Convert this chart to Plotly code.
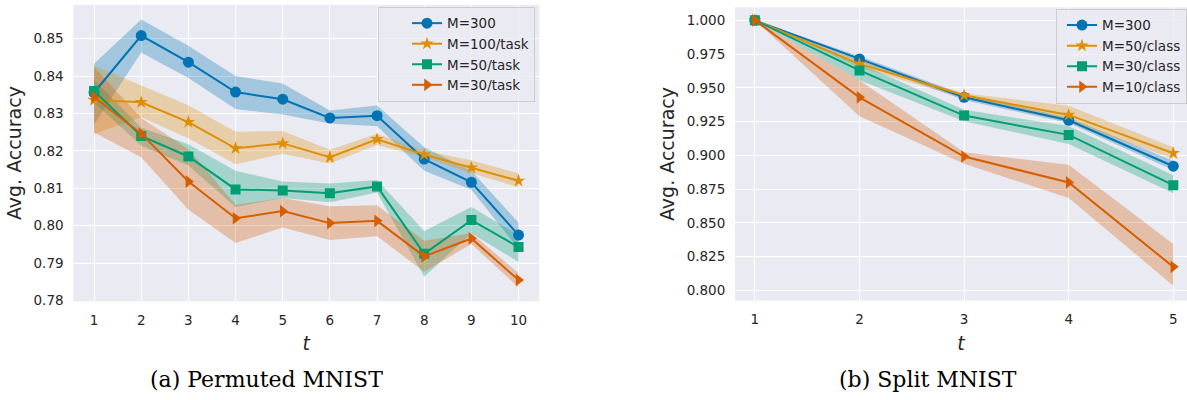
import plotly.graph_objects as go

# ---------------- data: (a) Permuted MNIST ----------------
t_perm = [1, 2, 3, 4, 5, 6, 7, 8, 9, 10]
perm_labels = ["M=300", "M=100/task", "M=50/task", "M=30/task"]
perm_m300 = [0.8356, 0.8508, 0.8437, 0.8357, 0.8338, 0.8288, 0.8294, 0.8178, 0.8116, 0.7975]
perm_m300_hi = [0.8433, 0.8551, 0.8481, 0.8400, 0.8380, 0.8308, 0.8321, 0.8210, 0.8147, 0.8008]
perm_m300_lo = [0.8270, 0.8463, 0.8395, 0.8312, 0.8297, 0.8273, 0.8266, 0.8147, 0.8096, 0.7938]
perm_m100 = [0.8336, 0.8330, 0.8277, 0.8207, 0.8220, 0.8183, 0.8231, 0.8190, 0.8155, 0.8120]
perm_m100_hi = [0.8428, 0.8374, 0.8322, 0.8251, 0.8253, 0.8203, 0.8246, 0.8200, 0.8175, 0.8140]
perm_m100_lo = [0.8245, 0.8290, 0.8234, 0.8164, 0.8192, 0.8166, 0.8216, 0.8183, 0.8140, 0.8103]
perm_m50 = [0.8360, 0.8240, 0.8185, 0.8097, 0.8094, 0.8087, 0.8105, 0.7925, 0.8015, 0.7943]
perm_m50_hi = [0.8390, 0.8262, 0.8218, 0.8147, 0.8118, 0.8113, 0.8122, 0.7986, 0.8050, 0.7975]
perm_m50_lo = [0.8330, 0.8214, 0.8161, 0.8050, 0.8074, 0.8063, 0.8089, 0.7864, 0.7980, 0.7903]
perm_m30 = [0.8344, 0.8246, 0.8118, 0.8020, 0.8039, 0.8007, 0.8013, 0.7918, 0.7966, 0.7855]
perm_m30_hi = [0.8424, 0.8288, 0.8205, 0.8056, 0.8074, 0.8052, 0.8055, 0.7960, 0.7980, 0.7873]
perm_m30_lo = [0.8249, 0.8183, 0.8043, 0.7954, 0.7995, 0.7962, 0.7972, 0.7877, 0.7951, 0.7835]

# ---------------- data: (b) Split MNIST ----------------
t_split = [1, 2, 3, 4, 5]
split_labels = ["M=300", "M=50/class", "M=30/class", "M=10/class"]
split_m300 = [1.000, 0.9714, 0.9430, 0.9260, 0.8920]
split_m300_hi = [1.000, 0.9734, 0.9450, 0.9280, 0.8960]
split_m300_lo = [1.000, 0.9694, 0.9410, 0.9240, 0.8890]
split_m50 = [1.000, 0.9678, 0.9445, 0.9300, 0.9016]
split_m50_hi = [1.000, 0.9700, 0.9460, 0.9367, 0.9060]
split_m50_lo = [1.000, 0.9650, 0.9423, 0.9248, 0.8975]
split_m30 = [1.000, 0.9629, 0.9295, 0.9152, 0.8780]
split_m30_hi = [1.000, 0.9678, 0.9338, 0.9217, 0.8853]
split_m30_lo = [1.000, 0.9556, 0.9253, 0.9084, 0.8720]
split_m10 = [1.000, 0.9430, 0.8992, 0.8800, 0.8175]
split_m10_hi = [1.000, 0.9556, 0.9023, 0.8931, 0.8344]
split_m10_lo = [1.000, 0.9290, 0.8938, 0.8684, 0.8036]

x_ticks_perm = [1, 2, 3, 4, 5, 6, 7, 8, 9, 10]
y_ticks_perm = [0.78, 0.79, 0.80, 0.81, 0.82, 0.83, 0.84, 0.85]
y_ticklabels_perm = ["0.78", "0.79", "0.80", "0.81", "0.82", "0.83", "0.84", "0.85"]
x_ticks_split = [1, 2, 3, 4, 5]
y_ticks_split = [0.800, 0.825, 0.850, 0.875, 0.900, 0.925, 0.950, 0.975, 1.000]
y_ticklabels_split = ["0.800", "0.825", "0.850", "0.875", "0.900", "0.925", "0.950", "0.975", "1.000"]

# ---------------- style ----------------
COLORS = ["#0173B2", "#DE8F05", "#029E73", "#D55E00"]
FILLS = ["rgba(1,115,178,0.3)", "rgba(222,143,5,0.3)", "rgba(2,158,115,0.3)", "rgba(213,94,0,0.3)"]
SYMBOLS = ["circle", "star", "square", "triangle-right"]
MSIZES = [11, 10, 10, 11]
FONT = "DejaVu Sans"
TXT = "#262626"

fig = go.Figure()

perm_series = [
    (perm_m300, perm_m300_hi, perm_m300_lo),
    (perm_m100, perm_m100_hi, perm_m100_lo),
    (perm_m50, perm_m50_hi, perm_m50_lo),
    (perm_m30, perm_m30_hi, perm_m30_lo),
]
split_series = [
    (split_m300, split_m300_hi, split_m300_lo),
    (split_m50, split_m50_hi, split_m50_lo),
    (split_m30, split_m30_hi, split_m30_lo),
    (split_m10, split_m10_hi, split_m10_lo),
]


def add_panel(xs, series, labels, xa, ya, legend):
    # shaded bands first
    for i, (m, hi, lo) in enumerate(series):
        fig.add_trace(go.Scatter(
            x=list(xs) + list(xs)[::-1], y=list(hi) + list(lo)[::-1],
            fill="toself", fillcolor=FILLS[i], line=dict(width=0),
            mode="lines", hoverinfo="skip", showlegend=False,
            xaxis=xa, yaxis=ya))
    for i, (m, hi, lo) in enumerate(series):
        fig.add_trace(go.Scatter(
            x=xs, y=m, mode="lines+markers", name=labels[i],
            line=dict(color=COLORS[i], width=2),
            marker=dict(symbol=SYMBOLS[i], size=MSIZES[i], color=COLORS[i],
                        line=dict(width=0)),
            xaxis=xa, yaxis=ya, legend=legend))


add_panel(t_perm, perm_series, perm_labels, "x", "y", "legend")
add_panel(t_split, split_series, split_labels, "x2", "y2", "legend2")

W, H = 1187, 400
axis_common = dict(
    showgrid=True, gridcolor="white", gridwidth=1.2, zeroline=False,
    showline=False, ticks="outside", ticklen=6, tickcolor="rgba(0,0,0,0)",
    tickfont=dict(family=FONT, size=13.5, color=TXT),
)
title_font = dict(family=FONT, size=19, color=TXT)

fig.update_layout(
    width=W, height=H,
    margin=dict(l=0, r=0, t=0, b=0),
    paper_bgcolor="white", plot_bgcolor="#EAEAF2",
    font=dict(family=FONT, color=TXT),
    xaxis=dict(domain=[73.3 / W, 539.3 / W], range=[0.56, 10.44],
               tickvals=x_ticks_perm, anchor="y",
               title=dict(text="<i>t</i>", font=title_font, standoff=10),
               **axis_common),
    yaxis=dict(domain=[1 - 306.7 / H, 1 - 5 / H], range=[0.7798, 0.859],
               tickvals=y_ticks_perm, ticktext=y_ticklabels_perm, anchor="x",
               title=dict(text="Avg. Accuracy", font=title_font, standoff=6),
               **axis_common),
    xaxis2=dict(domain=[735 / W, 1.0], range=[0.81, 5.131],
                tickvals=x_ticks_split, anchor="y2",
                title=dict(text="<i>t</i>", font=title_font, standoff=10),
                **axis_common),
    yaxis2=dict(domain=[1 - 306 / H, 1 - 7.5 / H], range=[0.7925, 1.0096],
                tickvals=y_ticks_split, ticktext=y_ticklabels_split, anchor="x2",
                title=dict(text="Avg. Accuracy", font=title_font, standoff=6),
                **axis_common),
    legend=dict(x=378 / W, y=1 - 7 / H, xanchor="left", yanchor="top",
                bgcolor="rgba(234,234,242,0.8)", bordercolor="#CCCCCC", borderwidth=1,
                font=dict(family=FONT, size=13.5, color=TXT), indentation=28),
    legend2=dict(x=1.0, y=1 - 9 / H, xanchor="right", yanchor="top",
                 bgcolor="rgba(234,234,242,0.8)", bordercolor="#CCCCCC", borderwidth=1,
                 font=dict(family=FONT, size=13.5, color=TXT), indentation=5),
    annotations=[
        dict(text="(a) Permuted MNIST", x=266.7 / W, y=1 - 386 / H, xref="paper", yref="paper",
             xanchor="center", yanchor="middle", showarrow=False,
             font=dict(family="DejaVu Serif", size=22, color="black")),
        dict(text="(b) Split MNIST", x=928 / W, y=1 - 386 / H, xref="paper", yref="paper",
             xanchor="center", yanchor="middle", showarrow=False,
             font=dict(family="DejaVu Serif", size=22, color="black")),
    ],
)

fig.write_html("out.html")
